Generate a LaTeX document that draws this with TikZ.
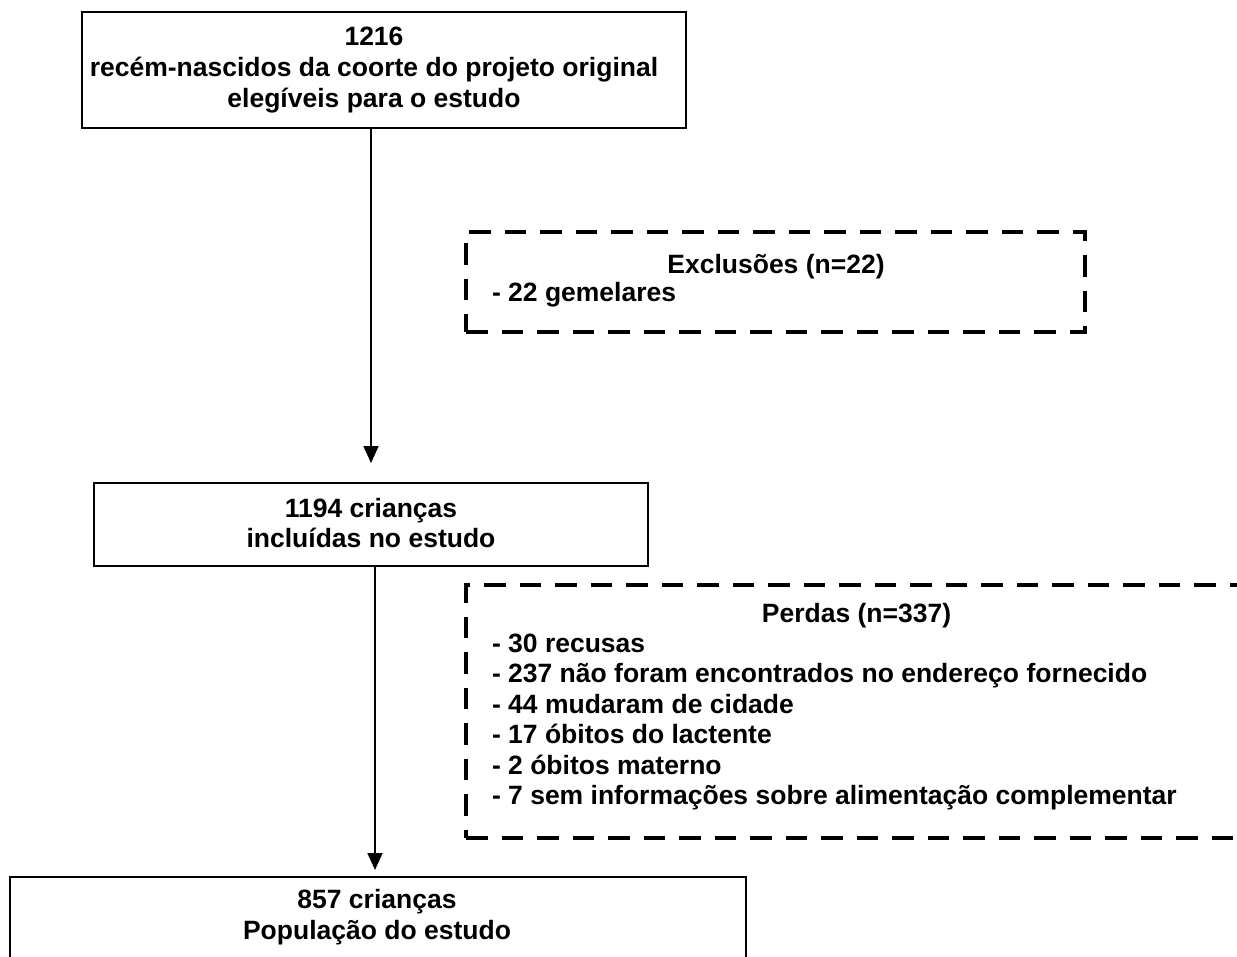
\documentclass[tikz,border=0pt]{standalone}
\usepackage{fontspec}
\setmainfont{Liberation Sans}
\usetikzlibrary{arrows.meta}
\begin{document}
\begin{tikzpicture}[x=1pt,y=-1pt,
  every node/.style={font=\fontsize{26.5}{30.5}\selectfont\bfseries, inner sep=0pt, outer sep=0pt},
  solidbox/.style={draw, line width=1.8pt, rectangle},
  dashbox/.style={draw, line width=4pt, dash pattern=on 21.5pt off 14pt},
  flow/.style={line width=1.8pt, -{Triangle[length=17pt,width=15pt]}},
  ln/.style={anchor=base},
  item/.style={anchor=base west}]
\useasboundingbox (0,0) rectangle (1237,956);
\fill[white] (0,0) rectangle (1237,956);
\begin{scope}
\clip (0,0) rectangle (1237,956);
% main flow boxes
\node[solidbox, minimum width=604pt, minimum height=116pt] (top) at (384,70) {};
\node[solidbox, minimum width=554pt, minimum height=83pt] (mid) at (371,524.5) {};
\node[solidbox, minimum width=736pt, minimum height=123pt] (bot) at (378,938.5) {};
% side boxes
\node[dashbox, minimum width=619pt, minimum height=100pt] (exc) at (775.5,282) {};
\node[dashbox, minimum width=834pt, minimum height=253pt] (per) at (883,711.5) {};
% box texts
\node[ln] (t1) at (374,45) {1216};
\node[ln] (t2) at (374,76) {recém-nascidos da coorte do projeto original};
\node[ln] (t3) at (374,107) {elegíveis para o estudo};
\node[ln] (m1) at (371,517) {1194 crianças};
\node[ln] (m2) at (371,547.5) {incluídas no estudo};
\node[ln] (b1) at (377,908.5) {857 crianças};
\node[ln] (b2) at (377,939.5) {População do estudo};
\node[ln] (eh) at (776,273) {Exclusões (n=22)};
\node[item] (e1) at (492,301) {- 22 gemelares};
\node[ln] (ph) at (856.5,622) {Perdas (n=337)};
\node[item] (p1) at (492,652) {- 30 recusas};
\node[item] (p2) at (492,682.5) {- 237 não foram encontrados no endereço fornecido};
\node[item] (p3) at (492,713) {- 44 mudaram de cidade};
\node[item] (p4) at (492,743.5) {- 17 óbitos do lactente};
\node[item] (p5) at (492,774) {- 2 óbitos materno};
\node[item] (p6) at (492,804.5) {- 7 sem informações sobre alimentação complementar};
% connectors
\coordinate (a1) at (371,0);
\coordinate (a2) at (375,0);
\draw[flow, shorten >=20pt] (top.south -| a1) -- (mid.north -| a1);
\draw[flow, shorten >=7pt] (mid.south -| a2) -- (bot.north -| a2);
\end{scope}
\end{tikzpicture}
\end{document}
